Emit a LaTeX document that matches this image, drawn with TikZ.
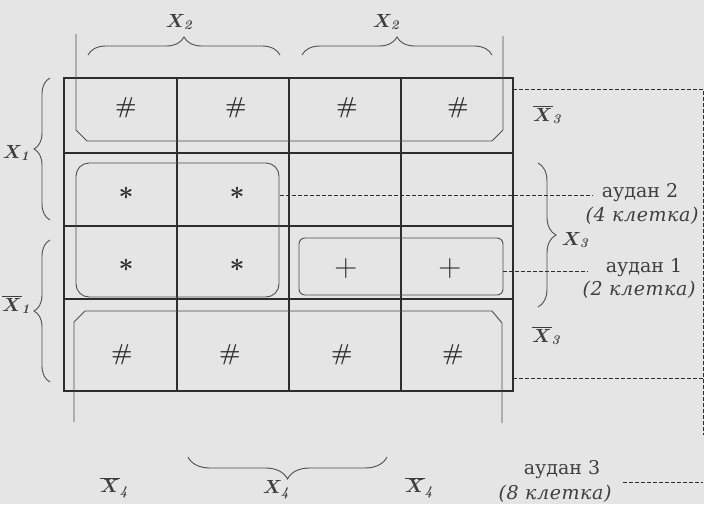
\RequirePackage{fix-cm}
\documentclass[tikz,border=0pt]{standalone}
\usepackage[no-math]{fontspec}
\setmainfont{DejaVu Serif}
\usetikzlibrary{decorations.pathreplacing}

\definecolor{paper}{RGB}{229,229,229}
\definecolor{ink}{RGB}{45,45,45}
\definecolor{soft}{RGB}{78,78,78}
\definecolor{label}{RGB}{62,62,62}

\tikzset{
  frame/.style={draw=ink, line width=2.2pt},
  cellrule/.style={draw=ink, line width=1.6pt},
  looppath/.style={draw=soft, line width=0.9pt},
  leader/.style={draw=ink, line width=1pt, dash pattern=on 3.5pt off 2.5pt},
  curly/.style={draw=soft, line width=0.9pt, decorate, decoration={brace, amplitude=#1}},
  curly/.default=18pt,
  varlabel/.style={text=label, font=\fontsize{19}{21}\selectfont\boldmath, inner sep=0pt},
  hashsym/.style={text=ink, font=\fontsize{23}{25}\selectfont\boldmath, inner sep=0pt},
  starsym/.style={text=ink, font=\fontsize{26}{28}\selectfont\boldmath, inner sep=0pt},
  plussym/.style={text=ink, font=\fontsize{32}{34}\selectfont, inner sep=0pt},
  areaname/.style={text=label, font=\fontsize{19}{22}\selectfont, inner sep=0pt},
  areacount/.style={text=label, font=\fontsize{19}{22}\selectfont\itshape\addfontfeature{LetterSpace=3}, inner sep=0pt},
}

\begin{document}
\begin{tikzpicture}[x=1pt, y=-1pt]
  % canvas
  \fill[paper] (0,0) rectangle (704,504);
  \useasboundingbox (0,0) rectangle (704,504);

  % Karnaugh grid: 4 columns x 4 rows
  \foreach \cx in {177,289,401} \draw[cellrule] (\cx,78) -- (\cx,391);
  \foreach \ry in {153,226,299} \draw[cellrule] (64,\ry) -- (513,\ry);
  \draw[frame] (64,78) rectangle (513,391);

  % cell entries
  \node[hashsym] (h11) at (126,108) {$\#$};
  \node[hashsym] (h12) at (236,108) {$\#$};
  \node[hashsym] (h13) at (347,108) {$\#$};
  \node[hashsym] (h14) at (458,108) {$\#$};
  \node[starsym] (s21) at (126,193) {$\ast$};
  \node[starsym] (s22) at (237,193) {$\ast$};
  \node[starsym] (s31) at (126,265) {$\ast$};
  \node[starsym] (s32) at (237,265) {$\ast$};
  \node[plussym] (p33) at (346,268) {$+$};
  \node[plussym] (p34) at (450,268) {$+$};
  \node[hashsym] (h41) at (122,355) {$\#$};
  \node[hashsym] (h42) at (230,355) {$\#$};
  \node[hashsym] (h43) at (342,355) {$\#$};
  \node[hashsym] (h44) at (453,355) {$\#$};

  % groupings
  \draw[looppath] (76,34) -- (76,130) -- (87,141) -- (492,141) -- (503,130) -- (503,36);
  \draw[looppath] (74,422) -- (74,322) -- (85,311) -- (492,311) -- (502,323) -- (502,423);
  \draw[looppath, rounded corners=13pt] (76,163) rectangle (279,297);
  \draw[looppath, rounded corners=6pt] (299,238) rectangle (503,295);

  % variable braces
  \draw[curly] (88,55) -- (280,55);
  \draw[curly] (302,55) -- (492,55);
  \draw[curly=16pt] (50,220) -- (50,78);
  \draw[curly=16pt] (50,382) -- (50,240);
  \draw[curly] (538,163) -- (538,307);
  \draw[curly=22pt] (387,457) -- (188,457);

  % variable labels
  \node[varlabel] (x2a) at (180,22) {$X_{\mathit 2}$};
  \node[varlabel] (x2b) at (387,22) {$X_{\mathit 2}$};
  \node[varlabel] (x1) at (17,153) {$X_{\mathit 1}$};
  \node[varlabel] (nx1) at (17,305) {$\overline{X}_{\mathit 1}$};
  \node[varlabel] (nx3a) at (548,115) {$\overline{X}_{\mathit 3}$};
  \node[varlabel] (x3) at (576,240) {$X_{\mathit 3}$};
  \node[varlabel] (nx3b) at (547,336) {$\overline{X}_{\mathit 3}$};
  \node[varlabel] (nx4a) at (115,488) {$\overline{X}_{\mathit 4}$};
  \node[varlabel] (x4) at (277,490) {$X_{\mathit 4}$};
  \node[varlabel] (nx4b) at (420,488) {$\overline{X}_{\mathit 4}$};

  % area captions
  \node[areaname] (a2) at (640,193) {аудан 2};
  \node[areacount] (c2) at (642,216) {(4 клетка)};
  \node[areaname] (a1) at (644,268) {аудан 1};
  \node[areacount] (c1) at (639,290) {(2 клетка)};
  \node[areaname] (a3) at (562,470) {аудан 3};
  \node[areacount] (c3) at (555,494) {(8 клетка)};

  % leader lines from groups to captions
  \coordinate (starside) at (280,195);
  \coordinate (a2lead) at (593,195);
  \coordinate (plusside) at (503,271);
  \coordinate (a1lead) at (588,271);
  \coordinate (topexit) at (513,89);
  \coordinate (botexit) at (513,378);
  \coordinate (railtop) at (703,89);
  \coordinate (railend) at (703,435);
  \coordinate (a3lead) at (623,482);
  \coordinate (rail3) at (703,482);

  \draw[leader] (starside) -- (a2lead);
  \draw[leader] (plusside) -- (a1lead);
  \draw[leader] (topexit) -- (railtop) -- (railend);
  \draw[leader] (botexit) -- (botexit -| railtop);
  \draw[leader] (a3lead) -- (rail3);
\end{tikzpicture}
\end{document}
